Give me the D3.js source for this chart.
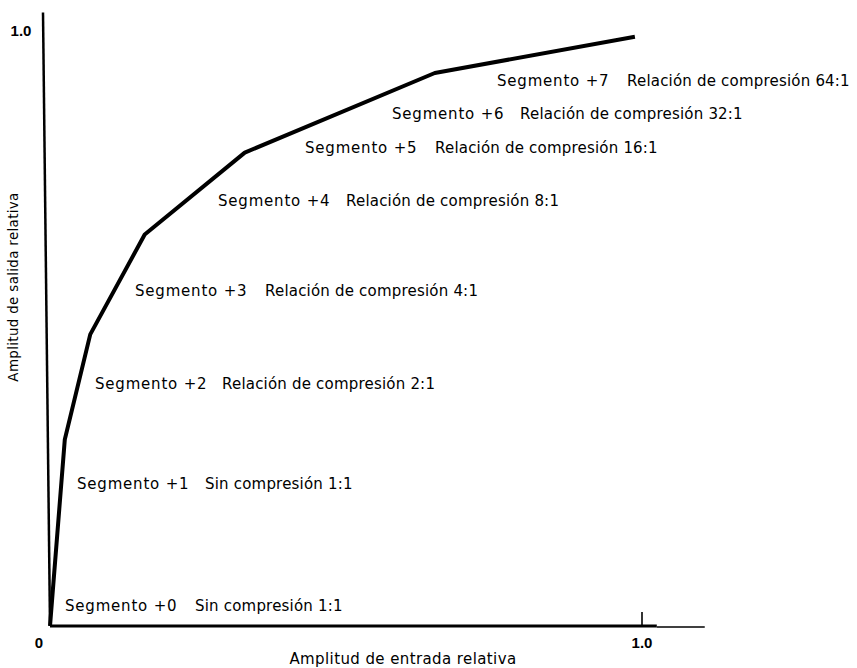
<!DOCTYPE html>
<html><head><meta charset="utf-8">
<script src="https://cdn.jsdelivr.net/npm/d3@7"></script>
<style>body{margin:0;background:#fff}svg{display:block}</style>
</head><body>
<script>
// ---- data ----
const curveX = [0, 0.025, 0.068, 0.160, 0.329, 0.650, 0.988];
const curveY = [0, 0.314, 0.491, 0.659, 0.797, 0.931, 0.992];
const segNames = ["Segmento +0","Segmento +1","Segmento +2","Segmento +3","Segmento +4","Segmento +5","Segmento +6","Segmento +7"];
const segDesc = ["Sin compresión 1:1","Sin compresión 1:1","Relación de compresión 2:1","Relación de compresión 4:1","Relación de compresión 8:1","Relación de compresión 16:1","Relación de compresión 32:1","Relación de compresión 64:1"];
const xTickLabels = ["0","1.0"];
const yTickLabels = ["1.0"];
const xTitle = "Amplitud de entrada relativa";
const yTitle = "Amplitud de salida relativa";

// ---- layout (pixels) ----
const W = 857, H = 668;
const x0 = 50, x1 = 642, y0 = 626, y1 = 32;
const labelPos = [[65,611,195],[77,489,205],[95,389,222],[135,296,265],[218,206,346],[305,153,435],[392,119,520],[497,86,627]];

const x = d3.scaleLinear().domain([0,1]).range([x0,x1]);
const y = d3.scaleLinear().domain([0,1]).range([y0,y1]);

const svg = d3.select("body").append("svg").attr("width",W).attr("height",H);
const font = "'DejaVu Sans', sans-serif";
const bfont = "'Liberation Sans', Arial, sans-serif";

// y axis (slightly tilted like the scan)
svg.append("line").attr("x1",x(0)-7).attr("y1",y(1.033)).attr("x2",x(0)).attr("y2",y(0))
  .attr("stroke","#000").attr("stroke-width",2.5);
// x axis
svg.append("line").attr("x1",x(0)).attr("y1",y(0)).attr("x2",x(1.025)).attr("y2",y(0))
  .attr("stroke","#000").attr("stroke-width",2.8);
svg.append("line").attr("x1",x(1.025)).attr("y1",y(0)+1).attr("x2",x(1.106)).attr("y2",y(0)+1)
  .attr("stroke","#000").attr("stroke-width",1.5);
// tick at 1.0
svg.append("line").attr("x1",x(1)).attr("x2",x(1)).attr("y1",y(0)).attr("y2",y(0)-14)
  .attr("stroke","#000").attr("stroke-width",1.6);

// tick labels
svg.append("text").attr("x",x(0)-11).attr("y",y(0)+22).attr("text-anchor","middle")
  .attr("font-family",bfont).attr("font-weight","bold").attr("font-size",15).text(xTickLabels[0]);
svg.append("text").attr("x",x(1)).attr("y",y(0)+22).attr("text-anchor","middle")
  .attr("font-family",bfont).attr("font-weight","bold").attr("font-size",15).text(xTickLabels[1]);
svg.append("text").attr("x",21).attr("y",y(1)+4).attr("text-anchor","middle")
  .attr("font-family",bfont).attr("font-weight","bold").attr("font-size",15).text(yTickLabels[0]);

// titles
svg.append("text").attr("x",403).attr("y",664).attr("text-anchor","middle")
  .attr("font-family",font).attr("font-size",15).attr("letter-spacing",0.4).text(xTitle);
svg.append("text").attr("transform","translate(18,287) rotate(-90)").attr("text-anchor","middle")
  .attr("font-family",font).attr("font-size",13.5).attr("letter-spacing",0.3).text(yTitle);

// curve
const line = d3.line().x((d,i)=>x(curveX[i])).y((d,i)=>y(curveY[i]));
svg.append("path").datum(curveX).attr("d",line).attr("fill","none")
  .attr("stroke","#000").attr("stroke-width",4).attr("stroke-linejoin","round");

// segment labels
segNames.forEach((n,i)=>{
  const p = labelPos[i];
  svg.append("text").attr("x",p[0]).attr("y",p[1]).attr("font-family",font)
    .attr("font-size",15).attr("letter-spacing",0.8).text(n);
  svg.append("text").attr("x",p[2]).attr("y",p[1]).attr("font-family",font)
    .attr("font-size",15).attr("letter-spacing",0.2).text(segDesc[i]);
});
</script>
</body></html>
